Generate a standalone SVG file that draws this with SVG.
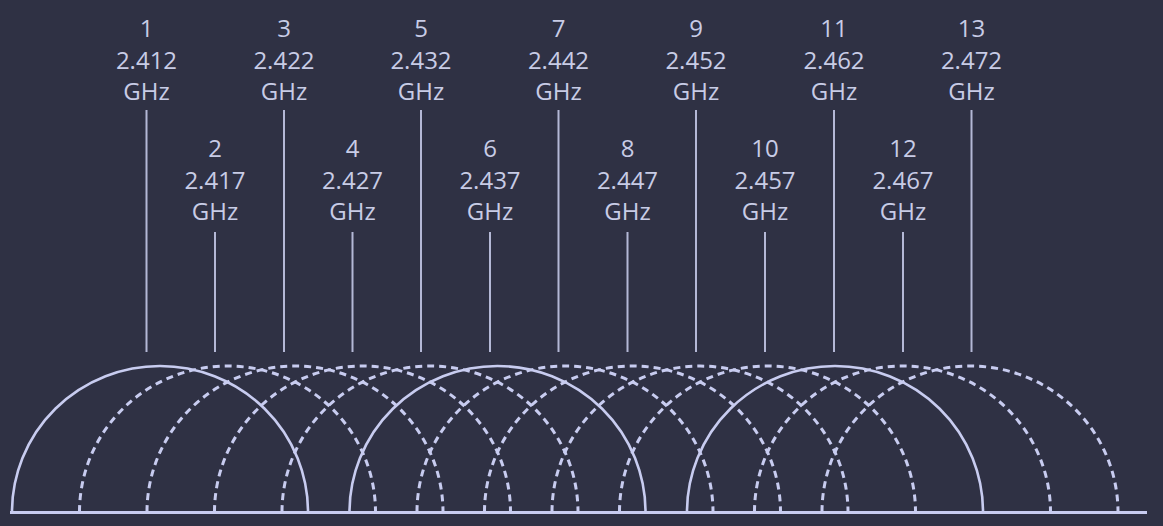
<svg xmlns="http://www.w3.org/2000/svg" width="1163" height="526" viewBox="0 0 1163 526">
<style>
.bg{fill:#2f3144}
.lbl{font-family:"Open Sans","Liberation Sans",sans-serif;font-size:24px;fill:#c8cce6;text-anchor:middle}
.ch{stroke:#b4b8d6;stroke-width:2;fill:none}
.solid{stroke:#c8ccf0;stroke-width:2.6;fill:none}
.dash{stroke:#c8ccf0;stroke-width:3;fill:none;stroke-dasharray:7 5}
.base{stroke:#c8ccf0;stroke-width:3}
</style>
<rect class="bg" width="1163" height="526"/>
<g id="ch1"><line class="ch" x1="146.5" y1="110" x2="146.5" y2="352"/><text class="lbl" x="146.5" y="37">1</text><text class="lbl" x="146.5" y="69">2.412</text><text class="lbl" x="146.5" y="100">GHz</text></g>
<g id="ch2"><line class="ch" x1="215" y1="232" x2="215" y2="352"/><text class="lbl" x="215" y="157">2</text><text class="lbl" x="215" y="189">2.417</text><text class="lbl" x="215" y="220">GHz</text></g>
<g id="ch3"><line class="ch" x1="284" y1="110" x2="284" y2="352"/><text class="lbl" x="284" y="37">3</text><text class="lbl" x="284" y="69">2.422</text><text class="lbl" x="284" y="100">GHz</text></g>
<g id="ch4"><line class="ch" x1="352.5" y1="232" x2="352.5" y2="352"/><text class="lbl" x="352.5" y="157">4</text><text class="lbl" x="352.5" y="189">2.427</text><text class="lbl" x="352.5" y="220">GHz</text></g>
<g id="ch5"><line class="ch" x1="421" y1="110" x2="421" y2="352"/><text class="lbl" x="421" y="37">5</text><text class="lbl" x="421" y="69">2.432</text><text class="lbl" x="421" y="100">GHz</text></g>
<g id="ch6"><line class="ch" x1="490" y1="232" x2="490" y2="352"/><text class="lbl" x="490" y="157">6</text><text class="lbl" x="490" y="189">2.437</text><text class="lbl" x="490" y="220">GHz</text></g>
<g id="ch7"><line class="ch" x1="558.5" y1="110" x2="558.5" y2="352"/><text class="lbl" x="558.5" y="37">7</text><text class="lbl" x="558.5" y="69">2.442</text><text class="lbl" x="558.5" y="100">GHz</text></g>
<g id="ch8"><line class="ch" x1="627.5" y1="232" x2="627.5" y2="352"/><text class="lbl" x="627.5" y="157">8</text><text class="lbl" x="627.5" y="189">2.447</text><text class="lbl" x="627.5" y="220">GHz</text></g>
<g id="ch9"><line class="ch" x1="696" y1="110" x2="696" y2="352"/><text class="lbl" x="696" y="37">9</text><text class="lbl" x="696" y="69">2.452</text><text class="lbl" x="696" y="100">GHz</text></g>
<g id="ch10"><line class="ch" x1="765" y1="232" x2="765" y2="352"/><text class="lbl" x="765" y="157">10</text><text class="lbl" x="765" y="189">2.457</text><text class="lbl" x="765" y="220">GHz</text></g>
<g id="ch11"><line class="ch" x1="834" y1="110" x2="834" y2="352"/><text class="lbl" x="834" y="37">11</text><text class="lbl" x="834" y="69">2.462</text><text class="lbl" x="834" y="100">GHz</text></g>
<g id="ch12"><line class="ch" x1="903" y1="232" x2="903" y2="352"/><text class="lbl" x="903" y="157">12</text><text class="lbl" x="903" y="189">2.467</text><text class="lbl" x="903" y="220">GHz</text></g>
<g id="ch13"><line class="ch" x1="971.5" y1="110" x2="971.5" y2="352"/><text class="lbl" x="971.5" y="37">13</text><text class="lbl" x="971.5" y="69">2.472</text><text class="lbl" x="971.5" y="100">GHz</text></g>
<g id="arcs">
<path class="dash" d="M79.5 512 A148 146 0 0 1 375.5 512"/>
<path class="dash" d="M147 512 A148 146 0 0 1 443 512"/>
<path class="dash" d="M214.5 512 A148 146 0 0 1 510.5 512"/>
<path class="dash" d="M282 512 A148 146 0 0 1 578 512"/>
<path class="dash" d="M417 512 A148 146 0 0 1 713 512"/>
<path class="dash" d="M484.5 512 A148 146 0 0 1 780.5 512"/>
<path class="dash" d="M552 512 A148 146 0 0 1 848 512"/>
<path class="dash" d="M619.5 512 A148 146 0 0 1 915.5 512"/>
<path class="dash" d="M754.5 512 A148 146 0 0 1 1050.5 512"/>
<path class="dash" d="M822 512 A148 146 0 0 1 1118 512"/>
<path class="solid" d="M12 512 A148 146 0 0 1 308 512"/>
<path class="solid" d="M349.5 512 A148 146 0 0 1 645.5 512"/>
<path class="solid" d="M687 512 A148 146 0 0 1 983 512"/>
<line class="base" x1="10" y1="512.5" x2="1147" y2="512.5"/>
</g>
</svg>
